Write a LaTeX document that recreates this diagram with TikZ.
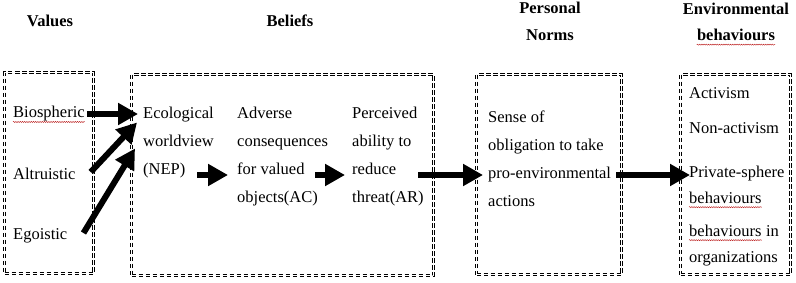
\documentclass[tikz,border=0pt]{standalone}
\usepackage{fontspec}
\setmainfont{Liberation Serif}
\usetikzlibrary{arrows.meta,decorations.pathmorphing}
\tikzset{
  box/.style={draw, double, double distance=1.8pt, line width=0.9pt, dash pattern=on 4.5pt off 2.5pt, inner sep=0pt},
  txt/.style={font=\fontsize{16.5}{28}\selectfont, inner sep=0pt, anchor=west, align=left},
  ttl/.style={font=\bfseries\fontsize{16.5}{27}\selectfont, inner sep=0pt, align=center},
  bigarrow/.style={line width=6pt, -{Triangle[length=20pt,width=21pt]}},
  wave/.style={draw=red!70!black, line width=0.35pt, decorate, decoration={snake, amplitude=0.6pt, segment length=2.2pt}}
}
\begin{document}
\begin{tikzpicture}[x=1pt,y=-1pt]
\useasboundingbox (0,0) rectangle (796,282);
% boxes
\node[box, minimum width=89pt, minimum height=201pt] (vbox) at (49,173) {};
\node[box, minimum width=302pt, minimum height=201pt] (bbox) at (282.5,175) {};
\node[box, minimum width=145pt, minimum height=200pt] (nbox) at (549,174.5) {};
\node[box, minimum width=110pt, minimum height=200pt] (ebox) at (735.5,174.5) {};
% titles
\node[ttl] (tv) at (50,21) {Values};
\node[ttl] (tb) at (290,21) {Beliefs};
\node[ttl] (tn) at (550,21.5) {Personal\\Norms};
\node[ttl] (te) at (736,8.5) {Environmental};
\node[ttl] (te2) at (736,35) {behaviours};
% texts
\node[txt] (bio) at (13,114) {Biospheric};
\node[txt] (alt) at (13,174) {Altruistic};
\node[txt] (ego) at (13,236) {Egoistic};
\node[txt] (eco) at (143,142.5) {Ecological\\worldview\\(NEP)};
\node[txt] (adv) at (237,156.5) {Adverse\\consequences\\for valued\\objects(AC)};
\node[txt] (per) at (352,156.5) {Perceived\\ability to\\reduce\\threat(AR)};
\node[txt] (sen) at (488,159) {Sense of\\obligation to take\\pro-environmental\\actions};
\node[txt] (act) at (689,93.5) {Activism};
\node[txt] (non) at (689,128.5) {Non-activism};
\node[txt] (pri) at (689,173.5) {Private-sphere};
\node[txt] (beh) at (689,197.5) {behaviours};
\node[txt] (bin) at (689,230.5) {behaviours};
\node[txt, anchor=base west] (bin2) at ([xshift=4.1pt]bin.base east) {in};
\node[txt] (org) at (689,258.5) {organizations};
% spell-check waves
\foreach \n in {bio,te2,beh,bin}
  \path[wave] ([yshift=-4pt]\n.base west) -- ([yshift=-4pt]\n.base east);
% arrows
\coordinate (row) at (0,175);
\draw[bigarrow] ([xshift=2pt]bio.east) -- ([xshift=-5pt]bio.east -| eco.west);
\draw[bigarrow] ([shift={(15,-2)}]alt.east) -- ([shift={(-6,-20)}]eco.west);
\draw[bigarrow] ([shift={(16,-3)}]ego.east) -- ([shift={(-8,6)}]eco.west);
\draw[bigarrow] ([xshift=54pt]eco.west |- row) -- ([xshift=-9pt]adv.west |- row);
\draw[bigarrow] ([xshift=78pt]adv.west |- row) -- ([xshift=-7pt]per.west |- row);
\draw[bigarrow] ([xshift=66pt]per.west |- row) -- ([xshift=-5pt]sen.west |- row);
\draw[bigarrow] ([xshift=5pt]sen.east |- row) -- ([xshift=1pt]pri.west |- row);
\end{tikzpicture}
\end{document}
